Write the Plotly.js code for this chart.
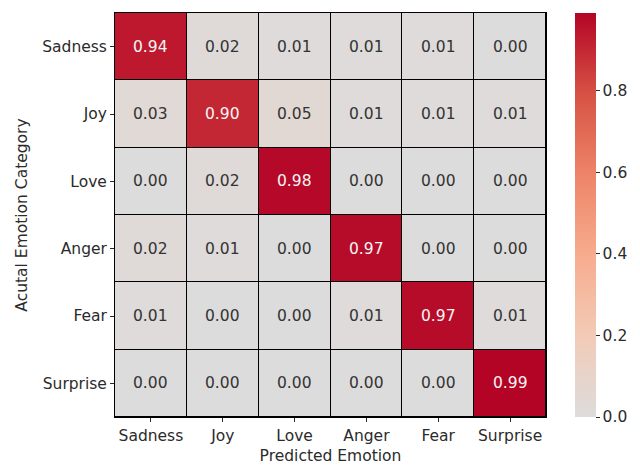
<!DOCTYPE html>
<html>
<head>
<meta charset="utf-8">
<script src="https://cdn.plot.ly/plotly-3.0.1.min.js"></script>
<style>
  html, body { margin: 0; padding: 0; background: #ffffff; }
  #chart { width: 640px; height: 465px; }
</style>
</head>
<body>
<div id="chart"></div>
<script>
// Emotion classes (rows = actual, columns = predicted)
const predictedLabels = ["Sadness", "Joy", "Love", "Anger", "Fear", "Surprise"];
const actualLabels = ["Sadness", "Joy", "Love", "Anger", "Fear", "Surprise"];

// Row-normalised confusion matrix
const rowSadness  = [0.94, 0.02, 0.01, 0.01, 0.01, 0.00];
const rowJoy      = [0.03, 0.90, 0.05, 0.01, 0.01, 0.01];
const rowLove     = [0.00, 0.02, 0.98, 0.00, 0.00, 0.00];
const rowAnger    = [0.02, 0.01, 0.00, 0.97, 0.00, 0.00];
const rowFear     = [0.01, 0.00, 0.00, 0.01, 0.97, 0.01];
const rowSurprise = [0.00, 0.00, 0.00, 0.00, 0.00, 0.99];

const colorbarTicks = [0.0, 0.2, 0.4, 0.6, 0.8];

const matrix = [rowSadness, rowJoy, rowLove, rowAnger, rowFear, rowSurprise];
const zMax = Math.max(...matrix.flat());

// Upper half of the "coolwarm" map, centred on zero
const coolwarmUpper = [
  [0.0, "#dddcdc"],
  [0.2, "#f2cbb7"],
  [0.4, "#f7ac8e"],
  [0.6, "#ee8468"],
  [0.8, "#d65244"],
  [1.0, "#b40426"]
];

const FONT = "DejaVu Sans, sans-serif";
const TEXT_DARK = "#2b2b2b";
const FS = 15.5;

// Cell value labels: light text on dark cells, dark text on light cells
const annotations = [];
matrix.forEach((row, i) => {
  row.forEach((v, j) => {
    annotations.push({
      x: predictedLabels[j],
      y: actualLabels[i],
      xref: "x", yref: "y",
      text: v.toFixed(2),
      showarrow: false,
      font: { family: FONT, size: FS, color: v / zMax > 0.5 ? "#f5f5f5" : "#333333" }
    });
  });
});

const trace = {
  type: "heatmap",
  x: predictedLabels,
  y: actualLabels,
  z: matrix,
  zmin: 0,
  zmax: zMax,
  colorscale: coolwarmUpper,
  xgap: 1,
  ygap: 1,
  hoverinfo: "skip",
  colorbar: {
    x: 1.0667,
    xanchor: "left",
    y: 0.5,
    yanchor: "middle",
    len: 1,
    lenmode: "fraction",
    thickness: 21,
    thicknessmode: "pixels",
    outlinewidth: 0,
    tickvals: colorbarTicks,
    ticktext: colorbarTicks.map(t => t.toFixed(1)),
    ticks: "outside",
    ticklen: 4,
    tickwidth: 1,
    tickcolor: TEXT_DARK,
    tickfont: { family: FONT, size: FS, color: TEXT_DARK },
    xpad: 0,
    ypad: 0
  }
};

const layout = {
  width: 640,
  height: 465,
  margin: { l: 115, r: 90, t: 13, b: 48 },
  paper_bgcolor: "#ffffff",
  plot_bgcolor: "#000000",
  font: { family: FONT, size: FS, color: TEXT_DARK },
  xaxis: {
    type: "category",
    showgrid: false,
    zeroline: false,
    ticks: "outside",
    ticklen: 4,
    tickwidth: 1,
    tickcolor: TEXT_DARK,
    tickfont: { family: FONT, size: FS, color: TEXT_DARK },
    showline: true,
    linecolor: "#000000",
    linewidth: 1,
    mirror: true,
    title: { text: "Predicted Emotion", font: { family: FONT, size: FS, color: TEXT_DARK }, standoff: 6 }
  },
  yaxis: {
    type: "category",
    autorange: "reversed",
    showgrid: false,
    zeroline: false,
    ticks: "outside",
    ticklen: 4,
    tickwidth: 1,
    tickcolor: TEXT_DARK,
    tickfont: { family: FONT, size: FS, color: TEXT_DARK },
    showline: true,
    linecolor: "#000000",
    linewidth: 1,
    mirror: true,
    title: { text: "Acutal Emotion Category", font: { family: FONT, size: FS, color: TEXT_DARK }, standoff: 10 }
  },
  annotations: annotations
};

Plotly.newPlot("chart", [trace], layout, { displayModeBar: false, staticPlot: true });
</script>
</body>
</html>
